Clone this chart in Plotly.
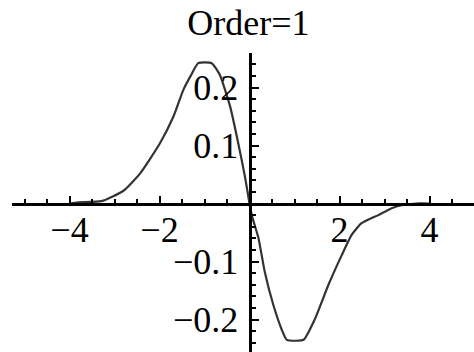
import plotly.graph_objects as go

# Sampled curve (first-order wavelet shape)
x_vals = [-4.0, -3.81, -3.29, -2.80, -2.43, -1.99, -1.69, -1.47, -1.28, -1.14,
          -0.84, -0.66, -0.43, -0.25, -0.10, 0.0, 0.05, 0.20, 0.34, 0.53,
          0.72, 0.83, 1.20, 1.46, 1.75, 2.05, 2.27, 2.49, 2.86, 3.16,
          3.38, 3.71, 4.0]
y_vals = [0.0, 0.002, 0.004, 0.022, 0.052, 0.104, 0.150, 0.196, 0.224, 0.242,
          0.242, 0.222, 0.167, 0.104, 0.046, 0.0, -0.020, -0.060, -0.118, -0.175,
          -0.218, -0.235, -0.235, -0.198, -0.141, -0.089, -0.054, -0.034, -0.020, -0.008,
          -0.003, 0.0, 0.0]

x_ticks = [-4, -2, 2, 4]
x_labels = ["\u22124", "\u22122", "2", "4"]
y_ticks = [-0.2, -0.1, 0.1, 0.2]
y_labels = ["\u22120.2", "\u22120.1", "0.1", "0.2"]

x_range = [-5.278, 4.989]
y_range = [-0.2560, 0.2595]

FONT = "Liberation Serif"
SIZE = 36

fig = go.Figure()
fig.add_trace(go.Scatter(
    x=x_vals, y=y_vals, mode="lines",
    line=dict(color="#333333", width=2.2, shape="spline", smoothing=0.5),
    hoverinfo="skip", showlegend=False,
))

# axes cross at the origin
x_pos = (0 - y_range[0]) / (y_range[1] - y_range[0])
y_pos = (0 - x_range[0]) / (x_range[1] - x_range[0])

fig.update_layout(
    width=474, height=352,
    margin=dict(l=12, r=0, t=53, b=0),
    paper_bgcolor="white", plot_bgcolor="white",
    title=dict(text="Order=1", x=0.524, xanchor="center",
               y=0.935, yanchor="middle", yref="container",
               font=dict(family=FONT, size=SIZE, color="black")),
    xaxis=dict(
        range=x_range, anchor="free", position=x_pos,
        showgrid=False, zeroline=False,
        showline=True, linecolor="black", linewidth=3,
        tickmode="array", tickvals=x_ticks, ticktext=x_labels,
        ticks="inside", ticklen=7, tickwidth=2, tickcolor="black",
        ticklabelstandoff=-7,
        tickfont=dict(family=FONT, size=SIZE, color="black"),
        minor=dict(tickmode="linear", tick0=0, dtick=0.5,
                   ticks="inside", ticklen=4, tickwidth=2, tickcolor="black"),
    ),
    yaxis=dict(
        range=y_range, anchor="free", position=y_pos,
        showgrid=False, zeroline=False,
        showline=True, linecolor="black", linewidth=3,
        tickmode="array", tickvals=y_ticks, ticktext=y_labels,
        ticks="inside", ticklen=7, tickwidth=2, tickcolor="black",
        ticklabelstandoff=3,
        tickfont=dict(family=FONT, size=SIZE, color="black"),
        minor=dict(tickmode="linear", tick0=0, dtick=0.02,
                   ticks="inside", ticklen=4, tickwidth=2, tickcolor="black"),
    ),
)

fig.write_html("out.html")
